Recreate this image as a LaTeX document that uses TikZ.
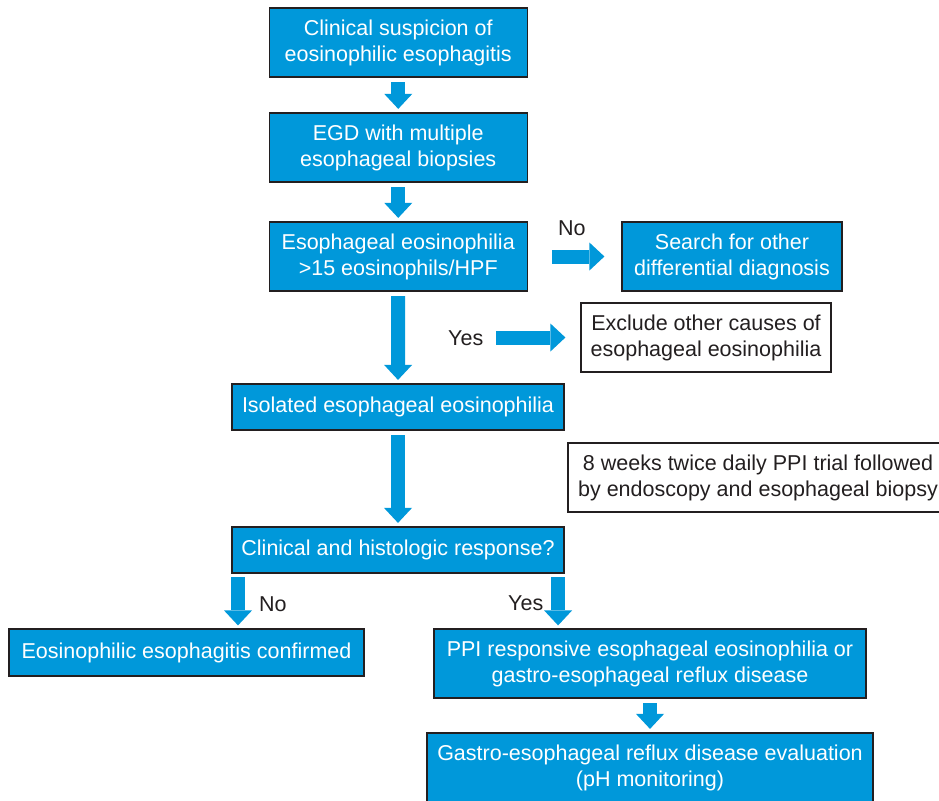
\documentclass[tikz,border=0pt]{standalone}
\usepackage{fontspec}
\setmainfont{Liberation Sans}
\usetikzlibrary{arrows.meta}
\definecolor{eoblue}{HTML}{0098DA}
\definecolor{eodark}{HTML}{231F20}
\newcommand{\boxfont}{\fontsize{21.5}{26}\selectfont}

\begin{document}
\begin{tikzpicture}
[x=1pt,y=-1pt,
  bluebox/.style={shape=rectangle,draw=eodark,line width=1.2pt,fill=eoblue,
    text=white,inner sep=0pt,align=center,font=\boxfont},%
  whitebox/.style={shape=rectangle,draw=eodark,line width=1.2pt,fill=white,
    text=eodark,inner sep=0pt,align=center,font=\boxfont},%
  blockarrow/.style={draw=eoblue,line width=14pt,
    -{Triangle[length=15pt,width=28pt,line width=0pt]}},%
  answer/.style={text=eodark,font=\boxfont,inner sep=0pt,anchor=base west}]
\useasboundingbox[fill=white] (0,0) rectangle (939,800);
%% boxes
\node (suspicion) at (398.25,42.5) [bluebox,minimum width=258pt,minimum height=69pt]
  {Clinical suspicion of\\eosinophilic esophagitis};
\node (egd) at (398.25,147.5) [bluebox,minimum width=258pt,minimum height=69pt]
  {EGD with multiple\\esophageal biopsies};
\node (eosinophilia) at (398.25,256.5) [bluebox,minimum width=258pt,minimum height=69pt]
  {Esophageal eosinophilia\\>15 eosinophils/HPF};
\node (search) at (732,256.5) [bluebox,minimum width=220pt,minimum height=69pt]
  {Search for other\\differential diagnosis};
\node (exclude) at (706,337.5) [whitebox,minimum width=250pt,minimum height=69pt]
  {Exclude other causes of\\esophageal eosinophilia};
\node (isolated) at (398,407) [bluebox,minimum width=332pt,minimum height=46pt]
  {Isolated esophageal eosinophilia};
\node (trial) at (758,477.5) [whitebox,minimum width=380pt,minimum height=69pt]
  {8 weeks twice daily PPI trial followed\\by endoscopy and esophageal biopsy};
\node (response) at (398,550) [bluebox,minimum width=332pt,minimum height=46pt]
  {Clinical and histologic response?};
\node (confirmed) at (186.5,652.5) [bluebox,minimum width=355pt,minimum height=47pt]
  {Eosinophilic esophagitis confirmed};
\node (ppiresp) at (650,663.5) [bluebox,minimum width=432pt,minimum height=69pt]
  {PPI responsive esophageal eosinophilia or\\gastro-esophageal reflux disease};
\node (gerdeval) at (650,767.5) [bluebox,minimum width=446pt,minimum height=69pt]
  {Gastro-esophageal reflux disease evaluation\\(pH monitoring)};
\coordinate (yesstart) at (496,337.5);
%% answers
\node (noright) at (558,235) [answer] {No};
\node (yesright) at (448,345) [answer] {Yes};
\node (noleft) at (259,611) [answer] {No};
\node (yesleft) at (508,610) [answer] {Yes};
%% arrows
\foreach \startnode/\endnode in {suspicion/egd, egd/eosinophilia,
  eosinophilia/isolated, isolated/response, ppiresp/gerdeval} {
  \draw[blockarrow,shorten <=4.5pt,shorten >=3.5pt] (\startnode.south) -- (\endnode.north);
}
\draw[blockarrow,shorten <=24.5pt,shorten >=17pt] (eosinophilia.east) -- (search.west);
\draw[blockarrow,shorten >=15pt] (yesstart) -- (exclude.west);
\draw[blockarrow,shorten <=3.5pt,shorten >=3pt] ([xshift=6.6pt]response.south west)
  -- ([xshift=6.6pt]response.south west |- confirmed.north);
\draw[blockarrow,shorten <=3.5pt,shorten >=3pt] ([xshift=-6.5pt]response.south east)
  -- ([xshift=-6.5pt]response.south east |- ppiresp.north);
\end{tikzpicture}
\end{document}
